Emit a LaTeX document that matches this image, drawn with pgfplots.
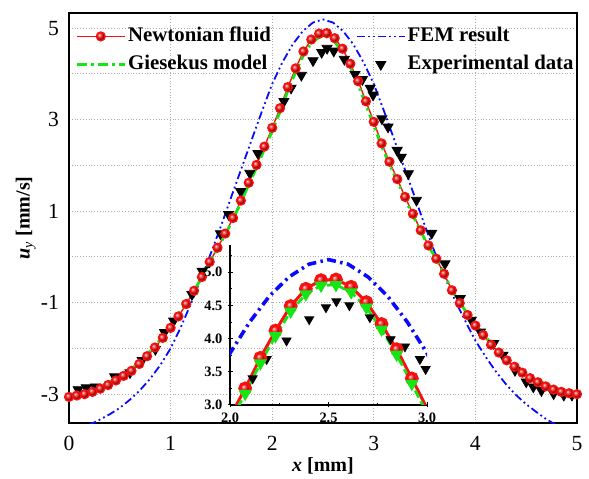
\documentclass[border=0pt]{standalone}
\usepackage{fontspec}
\setmainfont{Liberation Serif}
\usepackage{pgfplots}
\pgfplotsset{compat=1.18}
\usepackage{pgfplotstable}

\definecolor{nred}{RGB}{250,15,15}
\definecolor{ggreen}{RGB}{20,230,20}
\definecolor{fblue}{RGB}{10,10,250}

\pgfplotstableread{
x y
0.000 -3.06
0.077 -3.03
0.154 -3.00
0.231 -2.95
0.308 -2.88
0.385 -2.80
0.462 -2.70
0.538 -2.60
0.615 -2.49
0.692 -2.34
0.769 -2.17
0.846 -1.98
0.923 -1.77
1.000 -1.55
1.077 -1.30
1.154 -1.03
1.231 -0.74
1.308 -0.44
1.385 -0.11
1.462 0.20
1.538 0.51
1.615 0.85
1.692 1.23
1.769 1.62
1.846 2.01
1.923 2.41
2.000 2.82
2.077 3.25
2.154 3.71
2.231 4.12
2.308 4.49
2.385 4.75
2.462 4.88
2.538 4.89
2.615 4.78
2.692 4.55
2.769 4.22
2.846 3.84
2.923 3.40
3.000 2.95
3.077 2.48
3.154 2.08
3.231 1.70
3.308 1.31
3.385 0.94
3.462 0.58
3.538 0.25
3.615 -0.04
3.692 -0.37
3.769 -0.73
3.846 -1.01
3.923 -1.27
4.000 -1.50
4.077 -1.71
4.154 -1.92
4.231 -2.09
4.308 -2.26
4.385 -2.40
4.462 -2.53
4.538 -2.65
4.615 -2.74
4.692 -2.83
4.769 -2.90
4.846 -2.95
4.923 -2.98
5.000 -3.00
}\newtonian

\pgfplotstableread{
x y
0.000 -3.01
0.077 -2.98
0.154 -2.95
0.231 -2.90
0.308 -2.83
0.385 -2.75
0.462 -2.65
0.538 -2.56
0.615 -2.45
0.692 -2.30
0.769 -2.13
0.846 -1.94
0.923 -1.75
1.000 -1.53
1.077 -1.28
1.154 -1.01
1.231 -0.74
1.308 -0.44
1.385 -0.11
1.462 0.18
1.538 0.49
1.615 0.82
1.692 1.19
1.769 1.58
1.846 1.95
1.923 2.35
2.000 2.75
2.077 3.17
2.154 3.63
2.231 4.04
2.308 4.41
2.385 4.67
2.462 4.80
2.538 4.81
2.615 4.70
2.692 4.47
2.769 4.14
2.846 3.76
2.923 3.32
3.000 2.87
3.077 2.42
3.154 2.02
3.231 1.66
3.308 1.27
3.385 0.90
3.462 0.56
3.538 0.23
3.615 -0.04
3.692 -0.37
3.769 -0.73
3.846 -0.99
3.923 -1.25
4.000 -1.48
4.077 -1.69
4.154 -1.88
4.231 -2.05
4.308 -2.22
4.385 -2.36
4.462 -2.49
4.538 -2.60
4.615 -2.69
4.692 -2.78
4.769 -2.85
4.846 -2.90
4.923 -2.93
5.000 -2.95
}\giesekus

\pgfplotstableread{
x y
0.0 -3.85
0.1 -3.77
0.2 -3.67
0.3 -3.56
0.4 -3.44
0.5 -3.30
0.6 -3.12
0.7 -2.91
0.8 -2.66
0.9 -2.36
1.0 -2.00
1.1 -1.54
1.2 -1.02
1.3 -0.47
1.4 0.10
1.5 0.70
1.6 1.33
1.7 1.95
1.8 2.57
1.9 3.19
2.0 3.78
2.1 4.25
2.2 4.64
2.3 4.93
2.4 5.12
2.5 5.19
2.6 5.12
2.7 4.93
2.8 4.64
2.9 4.25
3.0 3.78
3.1 3.19
3.2 2.57
3.3 1.95
3.4 1.33
3.5 0.70
3.6 0.10
3.7 -0.45
3.8 -0.95
3.9 -1.40
4.0 -1.83
4.1 -2.18
4.2 -2.50
4.3 -2.78
4.4 -3.02
4.5 -3.22
4.6 -3.39
4.7 -3.55
4.8 -3.68
4.9 -3.79
5.0 -3.88
}\fem

\pgfplotstableread{
x y
0.09 -2.90
0.17 -2.86
0.26 -2.84
0.45 -2.62
0.60 -2.53
0.72 -2.26
0.85 -2.02
0.94 -1.65
1.03 -1.40
1.21 -0.82
1.31 -0.31
1.49 0.51
1.57 0.93
1.69 1.43
1.78 1.83
1.86 2.26
2.115 3.40
2.186 3.69
2.287 3.97
2.402 4.29
2.487 4.47
2.540 4.56
2.606 4.50
2.710 4.32
2.815 3.99
2.888 3.88
2.964 3.69
2.993 3.54
3.08 3.02
3.14 2.84
3.23 2.33
3.27 2.18
3.34 1.82
3.42 1.24
3.57 0.52
3.70 -0.15
3.85 -0.91
3.96 -1.38
4.05 -1.64
4.18 -1.89
4.27 -2.15
4.39 -2.48
4.50 -2.73
4.57 -2.84
4.65 -2.92
4.77 -2.99
4.87 -3.02
4.95 -3.02
}\experiment

\tikzset{
  newtstyle/.style={draw=nred, color=nred, line width=0.7pt, mark=ball, mark size=2.2pt, mark options={ball color=nred, draw=none}},
  giesstyle/.style={draw=ggreen, color=ggreen, line width=1.4pt, dash pattern=on 5pt off 2.2pt on 1.2pt off 2.2pt},
  femstyle/.style={draw=fblue, color=fblue, line width=0.9pt, dash pattern=on 4pt off 1.6pt on 0.9pt off 1.6pt on 0.9pt off 1.6pt},
  expstyle/.style={only marks, mark=triangle*, mark size=2.9pt, mark options={rotate=180, fill=black, draw=black}},
}

\begin{document}
\begin{tikzpicture}
\useasboundingbox (-34.5pt,-27.5pt) rectangle (260pt,211.5pt);
\begin{axis}[
  at={(0pt,0pt)}, anchor=south west,
  scale only axis, width=254pt, height=205pt,
  xmin=0, xmax=5, ymin=-3.63, ymax=5.33,
  xtick={0,1,2,3,4,5}, ytick={-3,-1,1,3,5}, minor ytick={-2,0,2,4},
  grid=both,
  major grid style={densely dotted, gray!65, line width=0.5pt},
  minor grid style={densely dotted, gray!65, line width=0.5pt},
  major tick length=0pt, minor tick length=0pt,
  axis line style={line width=1.1pt},
  /pgf/number format/assume math mode=true,
  tick label style={font=\fontsize{10.8}{12}\selectfont},
  xticklabel style={yshift=-3pt},
  yticklabel style={xshift=-1.5pt},
  xlabel={\textbf{\textit{x} [mm]}},
  ylabel={\textbf{\textit{u}}\textsubscript{\textit{y}} \textbf{[mm/s]}},
  label style={font=\fontsize{12}{14}\selectfont},
  every axis x label/.style={at={(axis description cs:0.5,-0.105)}, anchor=center},
  every axis y label/.style={at={(axis description cs:-0.085,0.5)}, anchor=center, rotate=90},
  legend columns=2,
  legend cell align=left,
  legend image code/.code={\draw[mark repeat=2, mark phase=2, #1] plot coordinates {(0pt,0pt) (12pt,0pt) (24pt,0pt)};},
  legend style={at={(rel axis cs:0,1)}, anchor=north west, xshift=3pt, yshift=-5.5pt,
    draw=none, fill=none, inner sep=0pt,
    font=\bfseries\fontsize{10.4}{12}\selectfont,
    nodes={inner sep=1pt, text height=7.5pt, text depth=2.5pt},
    row sep=2pt,
    /tikz/every even column/.append style={column sep=41.5pt}},
]
\addlegendimage{newtstyle}
\addlegendentry{Newtonian fluid}
\addlegendimage{femstyle}
\addlegendentry{FEM result}
\addlegendimage{giesstyle}
\addlegendentry{Giesekus model}
\addlegendimage{expstyle}
\addlegendentry{Experimental data}
\addplot[femstyle, forget plot] table[x=x,y=y] {\fem};
\addplot[expstyle, forget plot] table[x=x,y=y] {\experiment};
\addplot[newtstyle, forget plot] table[x=x,y=y] {\newtonian};
\addplot[giesstyle, forget plot] table[x=x,y=y] {\giesekus};
\end{axis}

\begin{axis}[
  at={(80.5pt,9pt)}, anchor=south west,
  scale only axis, width=98.5pt, height=80pt,
  xmin=2, xmax=3, ymin=3, ymax=5.41,
  axis x line=bottom, axis y line=left,
  axis line style={-, line width=0.7pt},
  xtick={2,2.5,3}, minor xtick={2.25,2.75},
  ytick={3,3.5,4,4.5,5}, minor ytick={3.25,3.75,4.25,4.75,5.25},
  tick align=center, major tick length=2.5pt, minor tick length=1.5pt,
  tick style={black, line width=0.5pt},
  /pgf/number format/assume math mode=true,
  tick label style={font=\bfseries\fontsize{7.2}{8}\selectfont},
  xticklabel style={/pgf/number format/.cd, fixed, fixed zerofill, precision=1, /tikz/.cd, yshift=1pt},
  yticklabel style={/pgf/number format/.cd, fixed, fixed zerofill, precision=1, /tikz/.cd, xshift=1pt},
]
\addplot[fblue, line width=1.8pt, dash pattern=on 4.5pt off 2.2pt on 1.2pt off 2.2pt] table[x=x,y=y] {\fem};
\addplot[only marks, mark=triangle*, mark size=2.6pt, mark options={rotate=180, fill=black, draw=black}] table[x=x,y=y] {\experiment};
\addplot[nred, line width=1.5pt, mark=ball, mark size=2.7pt, mark options={ball color=nred, draw=none}] table[x=x,y=y] {\newtonian};
\addplot[ggreen, line width=1.4pt, dash pattern=on 4pt off 2pt, mark=triangle*, mark size=2.4pt, mark options={rotate=180, solid, fill=ggreen, draw=ggreen}] table[x=x,y=y] {\giesekus};
\end{axis}
\end{tikzpicture}
\end{document}
